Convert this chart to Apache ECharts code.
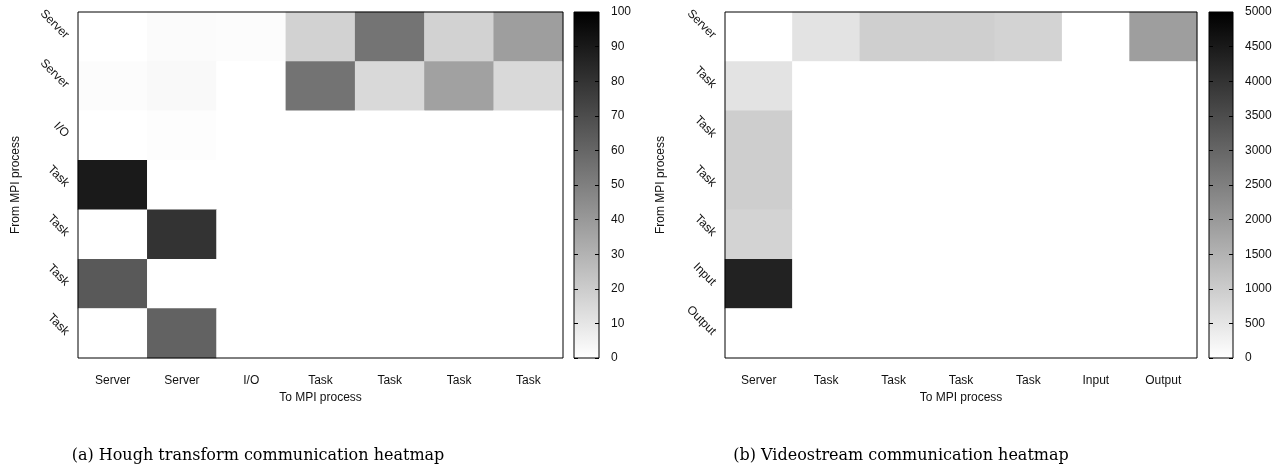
<!DOCTYPE html>
<html>
<head>
<meta charset="utf-8">
<script src="https://cdn.jsdelivr.net/npm/echarts@6/dist/echarts.min.js"></script>
<style>html,body{margin:0;padding:0;background:#fff}#c{width:1287px;height:466px}</style>
</head>
<body>
<div id="c"></div>
<script>
// ---- data ----
const houghCats = ['Server', 'Server', 'I/O', 'Task', 'Task', 'Task', 'Task'];
// rows = from process (top to bottom), cols = to process
const houghValues = [
  [0, 1.5, 1, 17.5, 54.5, 17.5, 38],
  [1, 2.5, 0, 55, 15, 37, 15],
  [0, 0.8, 0, 0, 0, 0, 0],
  [90, 0, 0, 0, 0, 0, 0],
  [0, 80, 0, 0, 0, 0, 0],
  [65, 0, 0, 0, 0, 0, 0],
  [0, 61.5, 0, 0, 0, 0, 0]
];
const houghMax = 100;
const houghTicks = 10;

const videoCats = ['Server', 'Task', 'Task', 'Task', 'Task', 'Input', 'Output'];
const videoValues = [
  [0, 550, 950, 950, 870, 0, 1900],
  [550, 0, 0, 0, 0, 0, 0],
  [970, 0, 0, 0, 0, 0, 0],
  [970, 0, 0, 0, 0, 0, 0],
  [860, 0, 0, 0, 0, 0, 0],
  [4330, 0, 0, 0, 0, 0, 0],
  [0, 0, 0, 0, 0, 0, 0]
];
const videoMax = 5000;
const videoTicks = 500;

const xName = 'To MPI process';
const yName = 'From MPI process';
const captionA = '(a) Hough transform communication heatmap';
const captionB = '(b) Videostream communication heatmap';

// ---- build ----
function toCells(m) {
  const out = [];
  m.forEach((row, r) => row.forEach((v, c) => out.push([c, r, v])));
  return out;
}
const FONT = 'Liberation Sans';
const labelStyle = { fontFamily: FONT, fontSize: 12, color: '#111' };

function heatX(gi, cats) {
  return {
    type: 'category', gridIndex: gi, data: cats,
    axisLine: { show: false }, axisTick: { show: false }, splitLine: { show: false },
    axisLabel: Object.assign({ margin: 17, interval: 0 }, labelStyle),
    name: xName, nameLocation: 'middle', nameGap: 30,
    nameTextStyle: { fontFamily: FONT, fontSize: 12, color: '#111' }
  };
}
function heatY(gi, cats, gap) {
  return {
    type: 'category', gridIndex: gi, data: cats, inverse: true,
    axisLine: { show: false }, axisTick: { show: false }, splitLine: { show: false },
    axisLabel: Object.assign({ margin: 11, rotate: -45, interval: 0 }, labelStyle),
    name: yName, nameLocation: 'middle', nameGap: gap, nameRotate: 90,
    nameTextStyle: { fontFamily: FONT, fontSize: 12, color: '#111' }
  };
}
function cbarX(gi) {
  return { type: 'category', gridIndex: gi, data: [''], show: false, boundaryGap: true };
}
function cbarY(gi, max, iv, pos, labels) {
  return {
    type: 'value', gridIndex: gi, min: 0, max: max, interval: iv, position: pos, z: 10,
    axisLine: { show: false }, splitLine: { show: false },
    axisTick: { show: true, inside: true, length: 4, lineStyle: { color: '#000', width: 1 } },
    axisLabel: Object.assign({ show: labels, margin: 12, formatter: v => String(v) }, labelStyle)
  };
}
function gradient() {
  return new echarts.graphic.LinearGradient(0, 0, 0, 1, [
    { offset: 0, color: '#000000' }, { offset: 1, color: '#ffffff' }
  ]);
}

const gridBase = { show: true, z: 10, borderColor: '#000', borderWidth: 1, backgroundColor: 'transparent', containLabel: false, outerBoundsMode: 'none' };

const option = {
  backgroundColor: '#fff',
  animation: false,
  title: [
    { text: captionA, left: 253, top: 443, textAlign: 'center',
      textStyle: { fontFamily: 'DejaVu Serif', fontWeight: 'normal', fontSize: 16, color: '#000' } },
    { text: captionB, left: 896, top: 443, textAlign: 'center',
      textStyle: { fontFamily: 'DejaVu Serif', fontWeight: 'normal', fontSize: 16, color: '#000' } }
  ],
  grid: [
    Object.assign({ left: 78, top: 12, width: 485, height: 346 }, gridBase),
    Object.assign({ left: 574, top: 12, width: 25, height: 346 }, gridBase),
    Object.assign({ left: 725, top: 12, width: 472, height: 346 }, gridBase),
    Object.assign({ left: 1209, top: 12, width: 24, height: 346 }, gridBase)
  ],
  xAxis: [heatX(0, houghCats), cbarX(1), heatX(2, videoCats), cbarX(3)],
  yAxis: [
    heatY(0, houghCats, 56),
    cbarY(1, houghMax, houghTicks, 'right', true),
    cbarY(1, houghMax, houghTicks, 'left', false),
    heatY(2, videoCats, 58),
    cbarY(3, videoMax, videoTicks, 'right', true),
    cbarY(3, videoMax, videoTicks, 'left', false)
  ],
  visualMap: [
    { type: 'continuous', show: false, seriesIndex: 0, min: 0, max: houghMax,
      inRange: { color: ['#ffffff', '#000000'] } },
    { type: 'continuous', show: false, seriesIndex: 2, min: 0, max: videoMax,
      inRange: { color: ['#ffffff', '#000000'] } }
  ],
  series: [
    { type: 'heatmap', xAxisIndex: 0, yAxisIndex: 0, data: toCells(houghValues), itemStyle: { borderWidth: 0 } },
    { type: 'bar', xAxisIndex: 1, yAxisIndex: 1, data: [houghMax], barWidth: '100%', itemStyle: { color: gradient() }, silent: true },
    { type: 'heatmap', xAxisIndex: 2, yAxisIndex: 3, data: toCells(videoValues), itemStyle: { borderWidth: 0 } },
    { type: 'bar', xAxisIndex: 3, yAxisIndex: 4, data: [videoMax], barWidth: '100%', itemStyle: { color: gradient() }, silent: true }
  ]
};
const chart = echarts.init(document.getElementById('c'), null, { renderer: 'canvas' });
chart.setOption(option);
</script>
</body>
</html>
